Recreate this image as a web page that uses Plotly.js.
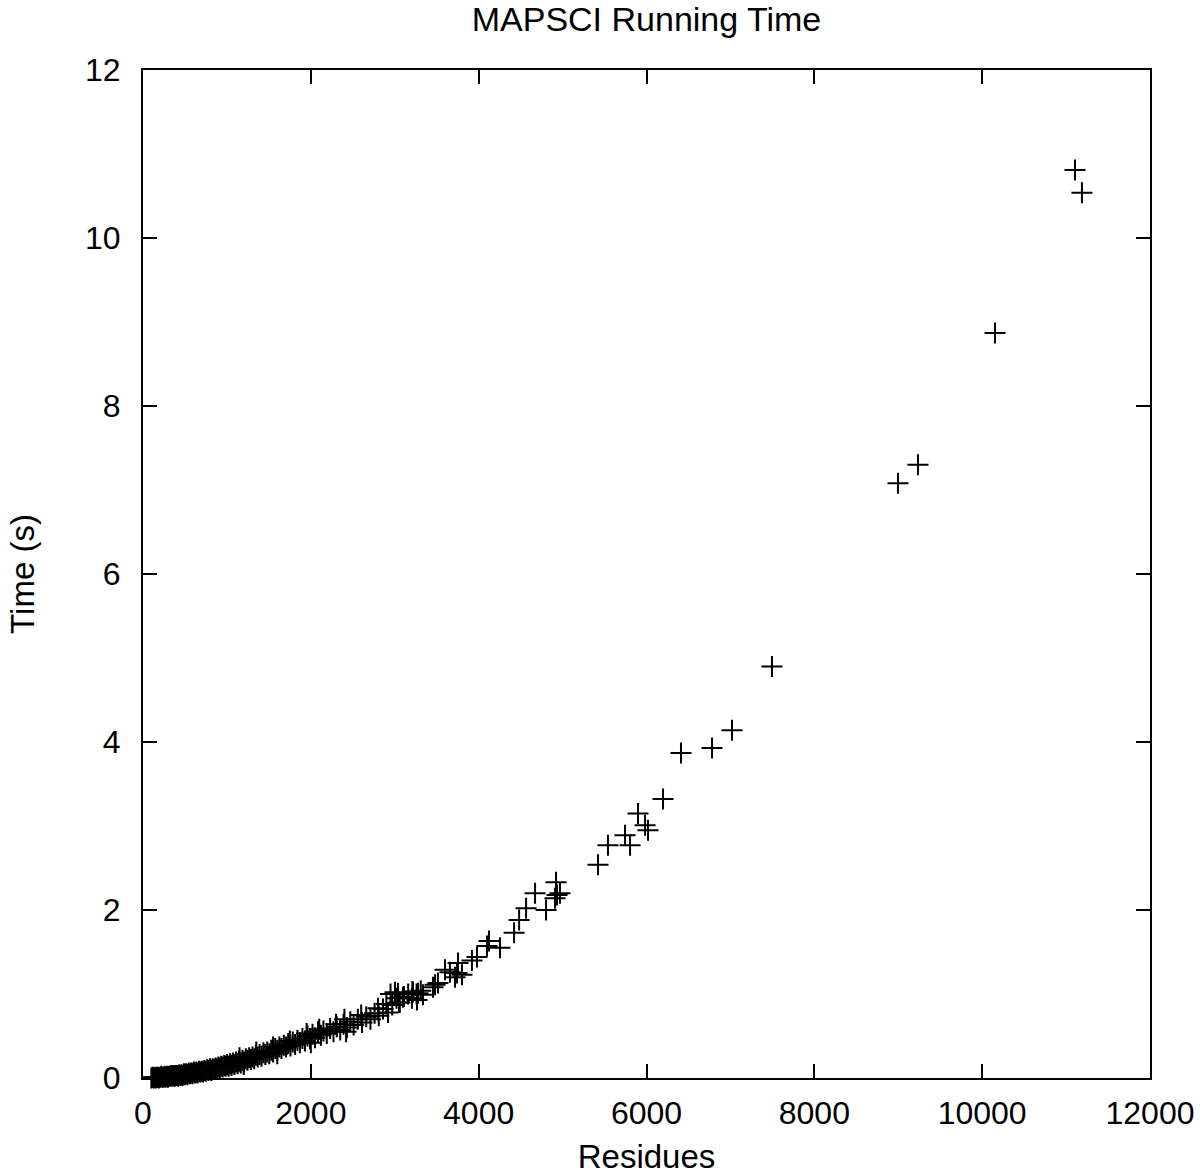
<!DOCTYPE html>
<html>
<head>
<meta charset="utf-8">
<script src="https://cdn.plot.ly/plotly-3.0.1.min.js"></script>
<style>
html,body{margin:0;padding:0;background:#fff;}
#chart{width:1200px;height:1176px;}
</style>
</head>
<body>
<div id="chart"></div>
<script>
// Residues (x) and running time in seconds (y)
const residues = [
  100,115,128,140,152,165,178,190,205,218,230,245,258,270,285,298,310,325,338,350,
  365,378,390,405,418,432,445,460,472,488,500,515,530,545,560,575,590,605,620,635,
  650,668,682,700,715,730,748,765,780,798,815,830,848,865,880,898,915,932,950,968,
  985,1002,1020,1038,1055,1072,1090,1110,1128,1145,1165,1185,1205,1225,1245,1265,1285,1305,1325,1345,
  1368,1390,1412,1435,1458,1480,1505,1528,1550,1575,1600,1625,1650,1678,1705,1730,1758,1785,1812,1840,
  1870,1900,1930,1960,1990,2020,2050,2085,2120,2150,2190,2230,2270,2310,2350,2390,2430,2470,2510,2560,
  2610,2660,2710,2760,2810,2860,2920,2970,3020,3060,3110,3160,3210,3260,3310,
  1150,1200,1350,1550,1600,1750,1950,2000,2100,2300,2400,2420,2600,2800,2900,2950,3003,
  3039,3051,3098,3205,3217,3265,3277,3336,3456,3480,3515,
  3599,3658,3718,3742,3754,3801,3920,3980,4099,4123,4254,4422,4482,4565,4672,4803,4910,4922,4934,4969,
  5422,5541,5744,5804,5899,5983,6018,6197,6411,6781,7019,7495,8997,9235,10153,11106,11189
];
const times = [
  0.00,0.01,0.00,0.01,0.00,0.01,0.01,0.00,0.01,0.02,0.01,0.01,0.02,0.01,0.02,0.01,0.02,0.02,0.03,0.02,
  0.03,0.02,0.03,0.03,0.02,0.04,0.03,0.04,0.03,0.05,0.04,0.05,0.04,0.06,0.05,0.06,0.05,0.07,0.06,0.07,
  0.06,0.08,0.07,0.08,0.07,0.09,0.08,0.10,0.09,0.11,0.09,0.11,0.10,0.12,0.11,0.13,0.12,0.14,0.13,0.15,
  0.14,0.16,0.14,0.17,0.15,0.18,0.16,0.19,0.17,0.20,0.18,0.21,0.19,0.23,0.21,0.24,0.22,0.25,0.23,0.27,
  0.25,0.28,0.26,0.30,0.28,0.31,0.29,0.33,0.31,0.35,0.33,0.37,0.35,0.39,0.37,0.41,0.38,0.43,0.40,0.45,
  0.42,0.47,0.44,0.50,0.47,0.52,0.48,0.55,0.51,0.56,0.53,0.59,0.55,0.61,0.57,0.64,0.60,0.67,0.63,0.70,
  0.66,0.73,0.70,0.77,0.74,0.82,0.78,0.87,0.95,0.90,0.97,1.00,1.03,1.00,1.04,
  0.24,0.16,0.31,0.37,0.29,0.44,0.53,0.42,0.58,0.64,0.70,0.55,0.75,0.83,0.88,1.00,1.02,
  1.01,0.90,0.96,0.95,1.02,0.93,1.01,0.99,1.08,1.11,1.13,
  1.29,1.26,1.20,1.25,1.37,1.23,1.40,1.44,1.57,1.63,1.55,1.73,1.88,2.02,2.20,2.00,2.14,2.33,2.18,2.20,
  2.54,2.77,2.89,2.77,3.15,3.01,2.95,3.32,3.87,3.93,4.14,4.90,7.08,7.30,8.87,10.81,10.54
];
const xTicks = [0,2000,4000,6000,8000,10000,12000];
const yTicks = [0,2,4,6,8,10,12];

const FONT = 'Liberation Sans, Arial, Helvetica, sans-serif';

const trace = {
  x: residues,
  y: times,
  type: 'scatter',
  mode: 'markers',
  cliponaxis: false,
  marker: {
    symbol: 'cross-thin-open',
    size: 15,
    color: '#000',
    line: {color: '#000', width: 2}
  },
  showlegend: false,
  hoverinfo: 'x+y'
};

const axisCommon = {
  showgrid: false,
  zeroline: false,
  showline: true,
  linecolor: '#000',
  linewidth: 2,
  mirror: 'ticks',
  ticks: 'inside',
  ticklen: 14,
  tickwidth: 2,
  tickcolor: '#000',
  tickfont: {family: FONT, size: 32, color: '#000'}
};

const layout = {
  width: 1200,
  height: 1176,
  paper_bgcolor: '#fff',
  plot_bgcolor: '#fff',
  margin: {l: 143, r: 50, t: 70, b: 98},
  font: {family: FONT, color: '#000'},
  title: {
    text: 'MAPSCI Running Time',
    font: {family: FONT, size: 34, color: '#000'},
    x: 0.5, xref: 'paper', xanchor: 'center',
    y: 0.984, yref: 'container', yanchor: 'middle'
  },
  xaxis: Object.assign({}, axisCommon, {
    range: [0, 12000],
    tickvals: xTicks,
    ticktext: xTicks.map(String),
    ticklabelstandoff: 6,
    title: {text: 'Residues', font: {family: FONT, size: 33, color: '#000'}, standoff: 14}
  }),
  yaxis: Object.assign({}, axisCommon, {
    range: [0, 12],
    tickvals: yTicks,
    ticktext: yTicks.map(String),
    ticklabelstandoff: 14,
    title: {text: 'Time (s)', font: {family: FONT, size: 33, color: '#000'}, standoff: 40}
  })
};

Plotly.newPlot('chart', [trace], layout, {staticPlot: true, displayModeBar: false});
</script>
</body>
</html>
